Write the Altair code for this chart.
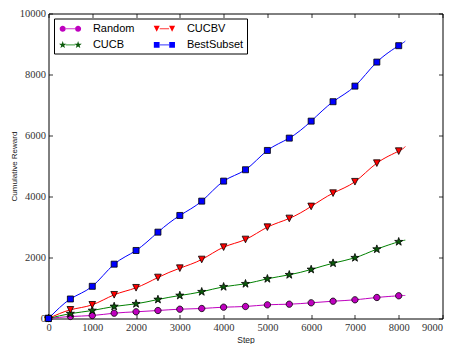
import math
import altair as alt
import pandas as pd

# ---- data ----
steps = [0, 500, 1000, 1500, 2000, 2500, 3000, 3500, 4000, 4500,
         5000, 5500, 6000, 6500, 7000, 7500, 8000]
end_step = 8150
series_names = ["Random", "CUCB", "CUCBV", "BestSubset"]
random_vals = [0, 66, 98, 174, 220, 262, 305, 328, 371, 394, 449, 469, 515, 567, 613, 689, 745]
random_end = 755
cucb_vals = [0, 160, 262, 394, 482, 623, 754, 876, 1040, 1138, 1302, 1433, 1607, 1814, 1991, 2273, 2516]
cucb_end = 2568
cucbv_vals = [0, 285, 449, 777, 1007, 1345, 1650, 1935, 2339, 2591, 2995, 3280, 3674, 4110, 4484, 5094, 5487]
cucbv_end = 5642
best_vals = [0, 640, 1055, 1781, 2230, 2831, 3378, 3848, 4504, 4877, 5510, 5914, 6471, 7108, 7619, 8407, 8945]
best_end = 9095

x_ticks = [0, 1000, 2000, 3000, 4000, 5000, 6000, 7000, 8000, 9000]
y_ticks = [0, 2000, 4000, 6000, 8000, 10000]

line_colors = ["#bf00bf", "#008000", "#ff0000", "#0000ff"]
fill_colors = ["#bf00bf", "#0a5a0a", "#ff0000", "#0000ff"]

# ---- tables ----
vals = {"Random": (random_vals, random_end), "CUCB": (cucb_vals, cucb_end),
        "CUCBV": (cucbv_vals, cucbv_end), "BestSubset": (best_vals, best_end)}
line_rows, pt_rows = [], []
for name in series_names:
    v, e = vals[name]
    for s, y in zip(steps, v):
        line_rows.append({"step": s, "value": y, "series": name})
        pt_rows.append({"step": s, "value": y, "series": name})
    line_rows.append({"step": end_step, "value": e, "series": name})
lines_df = pd.DataFrame(line_rows)
pts_df = pd.DataFrame(pt_rows)

# ---- marker shapes (unit box) ----
def star_pts(r):
    pts = []
    for k in range(10):
        a = -math.pi / 2 + k * math.pi / 5
        rr = r if k % 2 == 0 else r * 0.4
        pts.append((rr * math.cos(a), rr * math.sin(a)))
    return pts

def poly_path(pts, cx=0.0, sc=1.0):
    return "M" + "L".join(f"{cx + x * sc:.3f},{y * sc:.3f}" for x, y in pts) + "Z"

def circle_path(cx=0.0, r=1.0):
    return (f"M{cx - r:.3f},0A{r:.3f},{r:.3f} 0 1,0 {cx + r:.3f},0"
            f"A{r:.3f},{r:.3f} 0 1,0 {cx - r:.3f},0Z")

square_unit = [(-1, -1), (1, -1), (1, 1), (-1, 1)]
tri_unit = [(-1, -1), (1, -1), (0, 1)]

# order follows series_names: Random, CUCB, CUCBV, BestSubset
plot_shapes = [circle_path(0, 1.0), poly_path(star_pts(1.35)),
               poly_path(tri_unit, 0, 1.05), poly_path(square_unit, 0, 0.95)]

c = 1.35
m = 0.53
leg_shapes = [
    circle_path(-c, m) + circle_path(c, m),
    poly_path(star_pts(1.0), -c, 0.68) + poly_path(star_pts(1.0), c, 0.68),
    poly_path(tri_unit, -c, m) + poly_path(tri_unit, c, m),
    poly_path(square_unit, -c, m * 0.95) + poly_path(square_unit, c, m * 0.95),
]

leg_common = dict(title=None, orient="none", legendX=5.5, legendY=5.0, columns=2,
                  symbolSize=130, symbolStrokeWidth=0.8, symbolOffset=6.4,
                  labelOffset=16, columnPadding=17, rowPadding=4.4, padding=3.5,
                  labelFont="Liberation Sans", labelFontSize=11, labelColor="black")

x_scale = alt.Scale(domain=[0, 9000], nice=False, zero=False)
y_scale = alt.Scale(domain=[0, 10000], nice=False)

axis_common = dict(grid=False, domain=False, tickSize=4, tickColor="black",
                   tickWidth=0.8, offset=-4, labelFlush=False, labelOverlap=False)

x_axis = alt.Axis(orient="bottom", values=x_ticks, format="d",
                  labelFont="Liberation Serif", labelFontSize=10.5, labelColor="#333",
                  labelAlign=alt.ExprRef("datum.value === 9000 ? 'right' : 'center'"),
                  labelPadding=4, title="Step", titleFont="Liberation Sans",
                  titleFontSize=8.5, titleFontWeight="normal", titleColor="#222",
                  titlePadding=2, **axis_common)
y_axis = alt.Axis(orient="left", values=y_ticks, format="d",
                  labelFont="Liberation Serif", labelFontSize=10.5, labelColor="#333",
                  labelPadding=3, title="Cumulative Reward", titleFont="Liberation Sans",
                  titleFontSize=8, titleFontWeight="normal", titleColor="#222",
                  titlePadding=1, **axis_common)
x_axis_top = alt.Axis(orient="top", values=x_ticks, labels=False, title=None, **axis_common)
y_axis_right = alt.Axis(orient="right", values=y_ticks, labels=False, title=None, **axis_common)

lines = alt.Chart(lines_df).mark_line(interpolate="natural", strokeWidth=1).encode(
    x=alt.X("step:Q", scale=x_scale, axis=x_axis),
    y=alt.Y("value:Q", scale=y_scale, axis=y_axis),
    color=alt.Color("series:N",
                    scale=alt.Scale(domain=series_names, range=line_colors),
                    legend=alt.Legend(symbolType="M-0.82,0H0.82", strokeColor="black",
                                      **leg_common)),
    order=alt.Order("step:Q"),
)

points = alt.Chart(pts_df).mark_point(filled=True, stroke="black", strokeWidth=0.8,
                                      opacity=1, size=40).encode(
    x=alt.X("step:Q", scale=x_scale, axis=x_axis_top),
    y=alt.Y("value:Q", scale=y_scale, axis=y_axis_right),
    fill=alt.Fill("series:N", scale=alt.Scale(domain=series_names, range=fill_colors),
                  legend=None),
    shape=alt.Shape("series:N", scale=alt.Scale(domain=series_names, range=plot_shapes),
                    legend=None),
)

legend_marks = alt.Chart(pts_df).transform_filter("datum.step < 0").mark_point(
    filled=True, stroke="black", strokeWidth=0.8, opacity=1).encode(
    x=alt.X("step:Q", scale=x_scale, axis=None),
    y=alt.Y("value:Q", scale=y_scale, axis=None),
    fill=alt.Fill("series:N", scale=alt.Scale(domain=series_names, range=fill_colors),
                  legend=alt.Legend(labelOpacity=0, symbolStrokeColor="black", **leg_common)),
    shape=alt.Shape("series:N", scale=alt.Scale(domain=series_names, range=leg_shapes),
                    legend=alt.Legend(labelOpacity=0, symbolStrokeColor="black", **leg_common)),
)

chart = alt.layer(lines, points, legend_marks).resolve_scale(
    fill="independent", shape="independent"
).resolve_axis(x="independent", y="independent").properties(
    width=394, height=305,
    autosize=alt.AutoSizeParams(type="none"),
    padding={"left": 40.5, "top": 5.5, "right": 2.5, "bottom": 25},
    background="white",
).configure_view(stroke="black", strokeWidth=1)

chart.save("out.html", embed_options={"renderer": "svg", "actions": False})
